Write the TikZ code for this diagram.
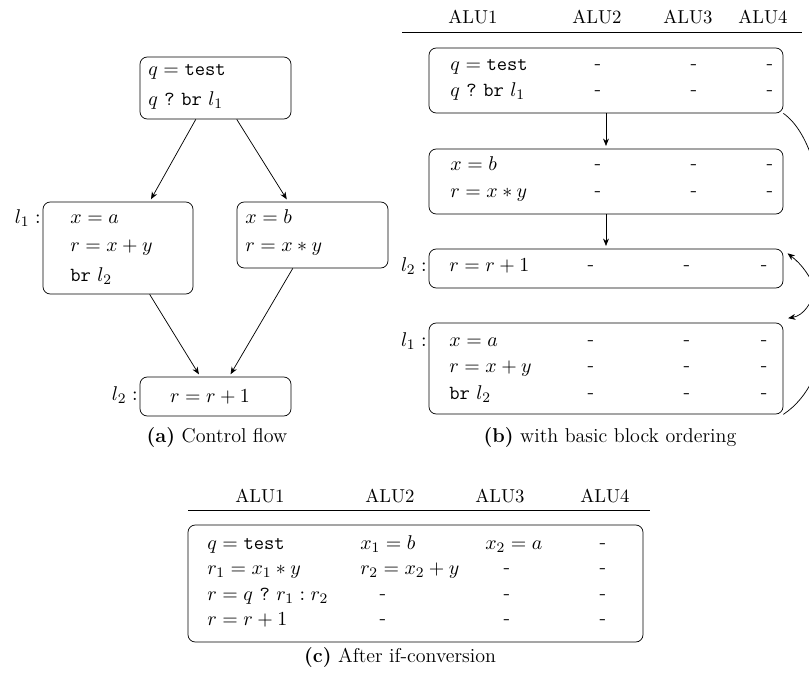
\documentclass[tikz,border=0pt]{standalone}
\usetikzlibrary{calc,arrows.meta,fit}
\begin{document}
\begin{tikzpicture}[x=0.55pt,y=-0.55pt,
  font=\fontsize{11}{13}\selectfont,
  blk/.style={draw, rounded corners=4pt, inner sep=0pt},
  txt/.style={anchor=mid west, inner sep=0pt},
  lbl/.style={anchor=mid east, inner sep=0pt},
  cell/.style={inner sep=0pt},
  hdr/.style={inner sep=0pt, font=\fontsize{10.3}{12}\selectfont},
  arr/.style={-{Stealth[length=4pt,width=3.2pt,inset=1.2pt]}, shorten >=1.5pt}]
\useasboundingbox (0,0) rectangle (809,679);

% ---------------- (a) control flow
\node[blk, fit={(140,57) (291,119)}] (a1) {};
\node[txt] (a1t1) at (148,72) {$q=\texttt{test}$};
\node[txt] (a1t2) at (148,102) {$q\ \texttt{?}\ \texttt{br}\ l_1$};

\node[blk, fit={(43,202) (193,294)}] (a2) {};
\node[lbl] (a2l) at (41,220) {$l_1:$};
\node[txt] (a2t1) at (70,220) {$x=a$};
\node[txt] (a2t2) at (70,248) {$r=x+y$};
\node[txt] (a2t3) at (70,278) {\texttt{br} $l_2$};

\node[blk, fit={(237,202) (388,268)}] (a3) {};
\node[txt] (a3t1) at (245,220) {$x=b$};
\node[txt] (a3t2) at (245,248) {$r=x*y$};

\node[blk, fit={(140,377) (291,416)}] (a4) {};
\node[lbl] (a4l) at (138,397) {$l_2:$};
\node[cell] (a4t1) at (210,397) {$r=r+1$};

\draw[arr] ($(a1.south west)!0.37!(a1.south east)$) -- ($(a2.north west)!0.71!(a2.north east)$);
\draw[arr] ($(a1.south west)!0.64!(a1.south east)$) -- ($(a3.north west)!0.34!(a3.north east)$);
\draw[arr] ($(a2.south west)!0.71!(a2.south east)$) -- ($(a4.north west)!0.40!(a4.north east)$);
\draw[arr] ($(a3.south west)!0.37!(a3.south east)$) -- ($(a4.north west)!0.59!(a4.north east)$);

\node[cell] (capa) at (217,437) {\textbf{(a)} Control flow};

% ---------------- (b) basic block ordering
\node[hdr] (bh1) at (473,17) {ALU1};
\node[hdr] (bh2) at (597,17) {ALU2};
\node[hdr] (bh3) at (688,17) {ALU3};
\node[hdr] (bh4) at (763,17) {ALU4};
\coordinate (brl) at (402,32);
\coordinate (brr) at (802,32);
\draw (brl) -- (brr);

\node[blk, fit={(429,48) (783,113)}] (b1) {};
\node[txt] (b1t1) at (450,67) {$q=\texttt{test}$};
\node[txt] (b1t2) at (450,93) {$q\ \texttt{?}\ \texttt{br}\ l_1$};
\foreach \r in {67,93}{
  \node[cell] (b1d2\r) at (598,\r) {-};
  \node[cell] (b1d3\r) at (694,\r) {-};
  \node[cell] (b1d4\r) at (770,\r) {-};
}

\node[blk, fit={(429,149) (783,214)}] (b2) {};
\node[txt] (b2t1) at (450,167) {$x=b$};
\node[txt] (b2t2) at (450,194) {$r=x*y$};
\foreach \r in {167,194}{
  \node[cell] (b2d2\r) at (598,\r) {-};
  \node[cell] (b2d3\r) at (694,\r) {-};
  \node[cell] (b2d4\r) at (770,\r) {-};
}

\node[blk, fit={(429,249) (783,288)}] (b3) {};
\node[lbl] (b3l) at (427,268) {$l_2:$};
\node[txt] (b3t1) at (449,268) {$r=r+1$};
\node[cell] (b3d2) at (591,268) {-};
\node[cell] (b3d3) at (687,268) {-};
\node[cell] (b3d4) at (764,268) {-};

\node[blk, fit={(429,323) (783,414)}] (b4) {};
\node[lbl] (b4l) at (427,343) {$l_1:$};
\node[txt] (b4t1) at (449,343) {$x=a$};
\node[txt] (b4t2) at (449,369) {$r=x+y$};
\node[txt] (b4t3) at (449,396) {\texttt{br} $l_2$};
\foreach \r in {343,369,396}{
  \node[cell] (b4d2\r) at (591,\r) {-};
  \node[cell] (b4d3\r) at (687,\r) {-};
  \node[cell] (b4d4\r) at (764,\r) {-};
}

\draw[arr] (b1.south) -- (b2.north);
\draw[arr] (b2.south) -- (b3.north);
\draw[arr] (b1.south east) .. controls (835,150) and (835,310) .. ($(b4.north east)+(2,-4)$);
\draw[arr] (b4.south east) .. controls (835,380) and (835,290) .. ($(b3.north east)+(2,3)$);

\node[cell] (capb) at (610,437) {\textbf{(b)} with basic block ordering};

% ---------------- (c) after if-conversion
\node[hdr] (ch1) at (260,496) {ALU1};
\node[hdr] (ch2) at (390,496) {ALU2};
\node[hdr] (ch3) at (500,496) {ALU3};
\node[hdr] (ch4) at (605,496) {ALU4};
\coordinate (crl) at (188,510);
\coordinate (crr) at (650,510);
\draw (crl) -- (crr);

\node[blk, fit={(188,525) (643,642)}] (c1) {};
\node[txt] (c11) at (207,546) {$q=\texttt{test}$};
\node[txt] (c12) at (360,546) {$x_1=b$};
\node[txt] (c13) at (485,546) {$x_2=a$};
\node[cell] (c14) at (603,546) {-};

\node[txt] (c21) at (207,571) {$r_1=x_1*y$};
\node[txt] (c22) at (360,571) {$r_2=x_2+y$};
\node[cell] (c23) at (507,571) {-};
\node[cell] (c24) at (603,571) {-};

\node[txt] (c31) at (207,597) {$r=q\ \texttt{?}\ r_1:r_2$};
\node[cell] (c32) at (383,597) {-};
\node[cell] (c33) at (507,597) {-};
\node[cell] (c34) at (603,597) {-};

\node[txt] (c41) at (207,622) {$r=r+1$};
\node[cell] (c42) at (383,622) {-};
\node[cell] (c43) at (507,622) {-};
\node[cell] (c44) at (603,622) {-};

\node[cell] (capc) at (400,657) {\textbf{(c)} After if-conversion};
\end{tikzpicture}
\end{document}
